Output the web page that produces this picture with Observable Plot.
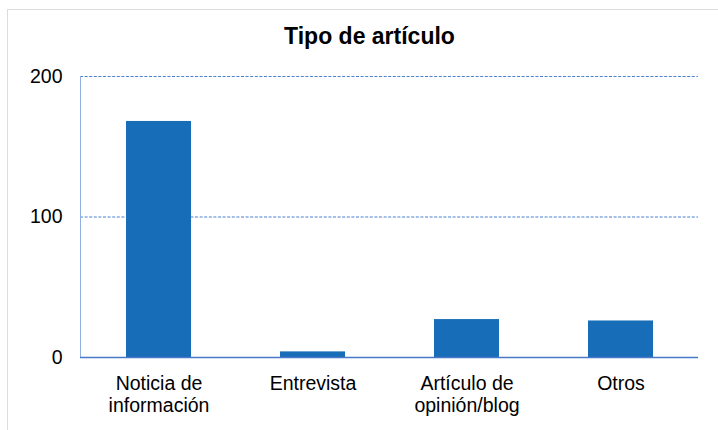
<!DOCTYPE html>
<html>
<head>
<meta charset="utf-8">
<script src="https://cdn.jsdelivr.net/npm/d3@7"></script>
<script src="https://cdn.jsdelivr.net/npm/@observablehq/plot@0.6"></script>
<style>
  html, body { margin: 0; padding: 0; background: #fff; }
  #wrap { position: relative; width: 718px; height: 430px; overflow: hidden; font-family: "Liberation Sans", Arial, sans-serif; }
  #frame { position: absolute; left: 7px; top: 9px; width: 760px; height: 480px; border: 1.5px solid #dcdcdc; box-sizing: border-box; }
  #title { position: absolute; left: 0; width: 739px; top: 23px; text-align: center; font-size: 23px; font-weight: bold; color: #000; line-height: 27px; }
  #chart { position: absolute; left: 0; top: 50px; }
</style>
</head>
<body>
<div id="wrap">
  <div id="frame"></div>
  <div id="title">Tipo de artículo</div>
  <div id="chart"></div>
</div>
<script>
const categories = ["Noticia de\ninformación", "Entrevista", "Artículo de\nopinión/blog", "Otros"];
const values = [168, 4, 27, 26];
const yTicks = [0, 100, 200];
const gridTicks = [100, 200];

const data = categories.map((c, i) => ({category: c, value: values[i]}));

const chart = Plot.plot({
  width: 718,
  height: 380,
  marginLeft: 80,
  marginRight: 20,
  marginTop: 26,
  marginBottom: 73,
  style: {fontFamily: "'Liberation Sans', Arial, sans-serif", fontSize: "19.5px", color: "#000", background: "transparent"},
  x: {domain: categories, paddingInner: 0.58, paddingOuter: 0.29, label: null},
  y: {domain: [0, 200], label: null},
  marks: [
    Plot.ruleY(gridTicks, {stroke: "#4a80d0", strokeWidth: 1, strokeDasharray: "3,1.6"}),
    Plot.barY(data, {x: "category", y: "value", fill: "#176db8"}),
    Plot.axisY({ticks: yTicks, tickSize: 0, tickPadding: 18, label: null, fontSize: 19.5}),
    Plot.axisX({tickSize: 0, tickPadding: 17, label: null, fontSize: 19.5, lineHeight: 1.12, lineAnchor: "top"}),
    Plot.frame({anchor: "left", stroke: "#8fb0e0", strokeWidth: 1}),
    Plot.ruleY([0], {stroke: "#4a78c8", strokeWidth: 1.6})
  ]
});
document.getElementById("chart").appendChild(chart);
</script>
</body>
</html>
